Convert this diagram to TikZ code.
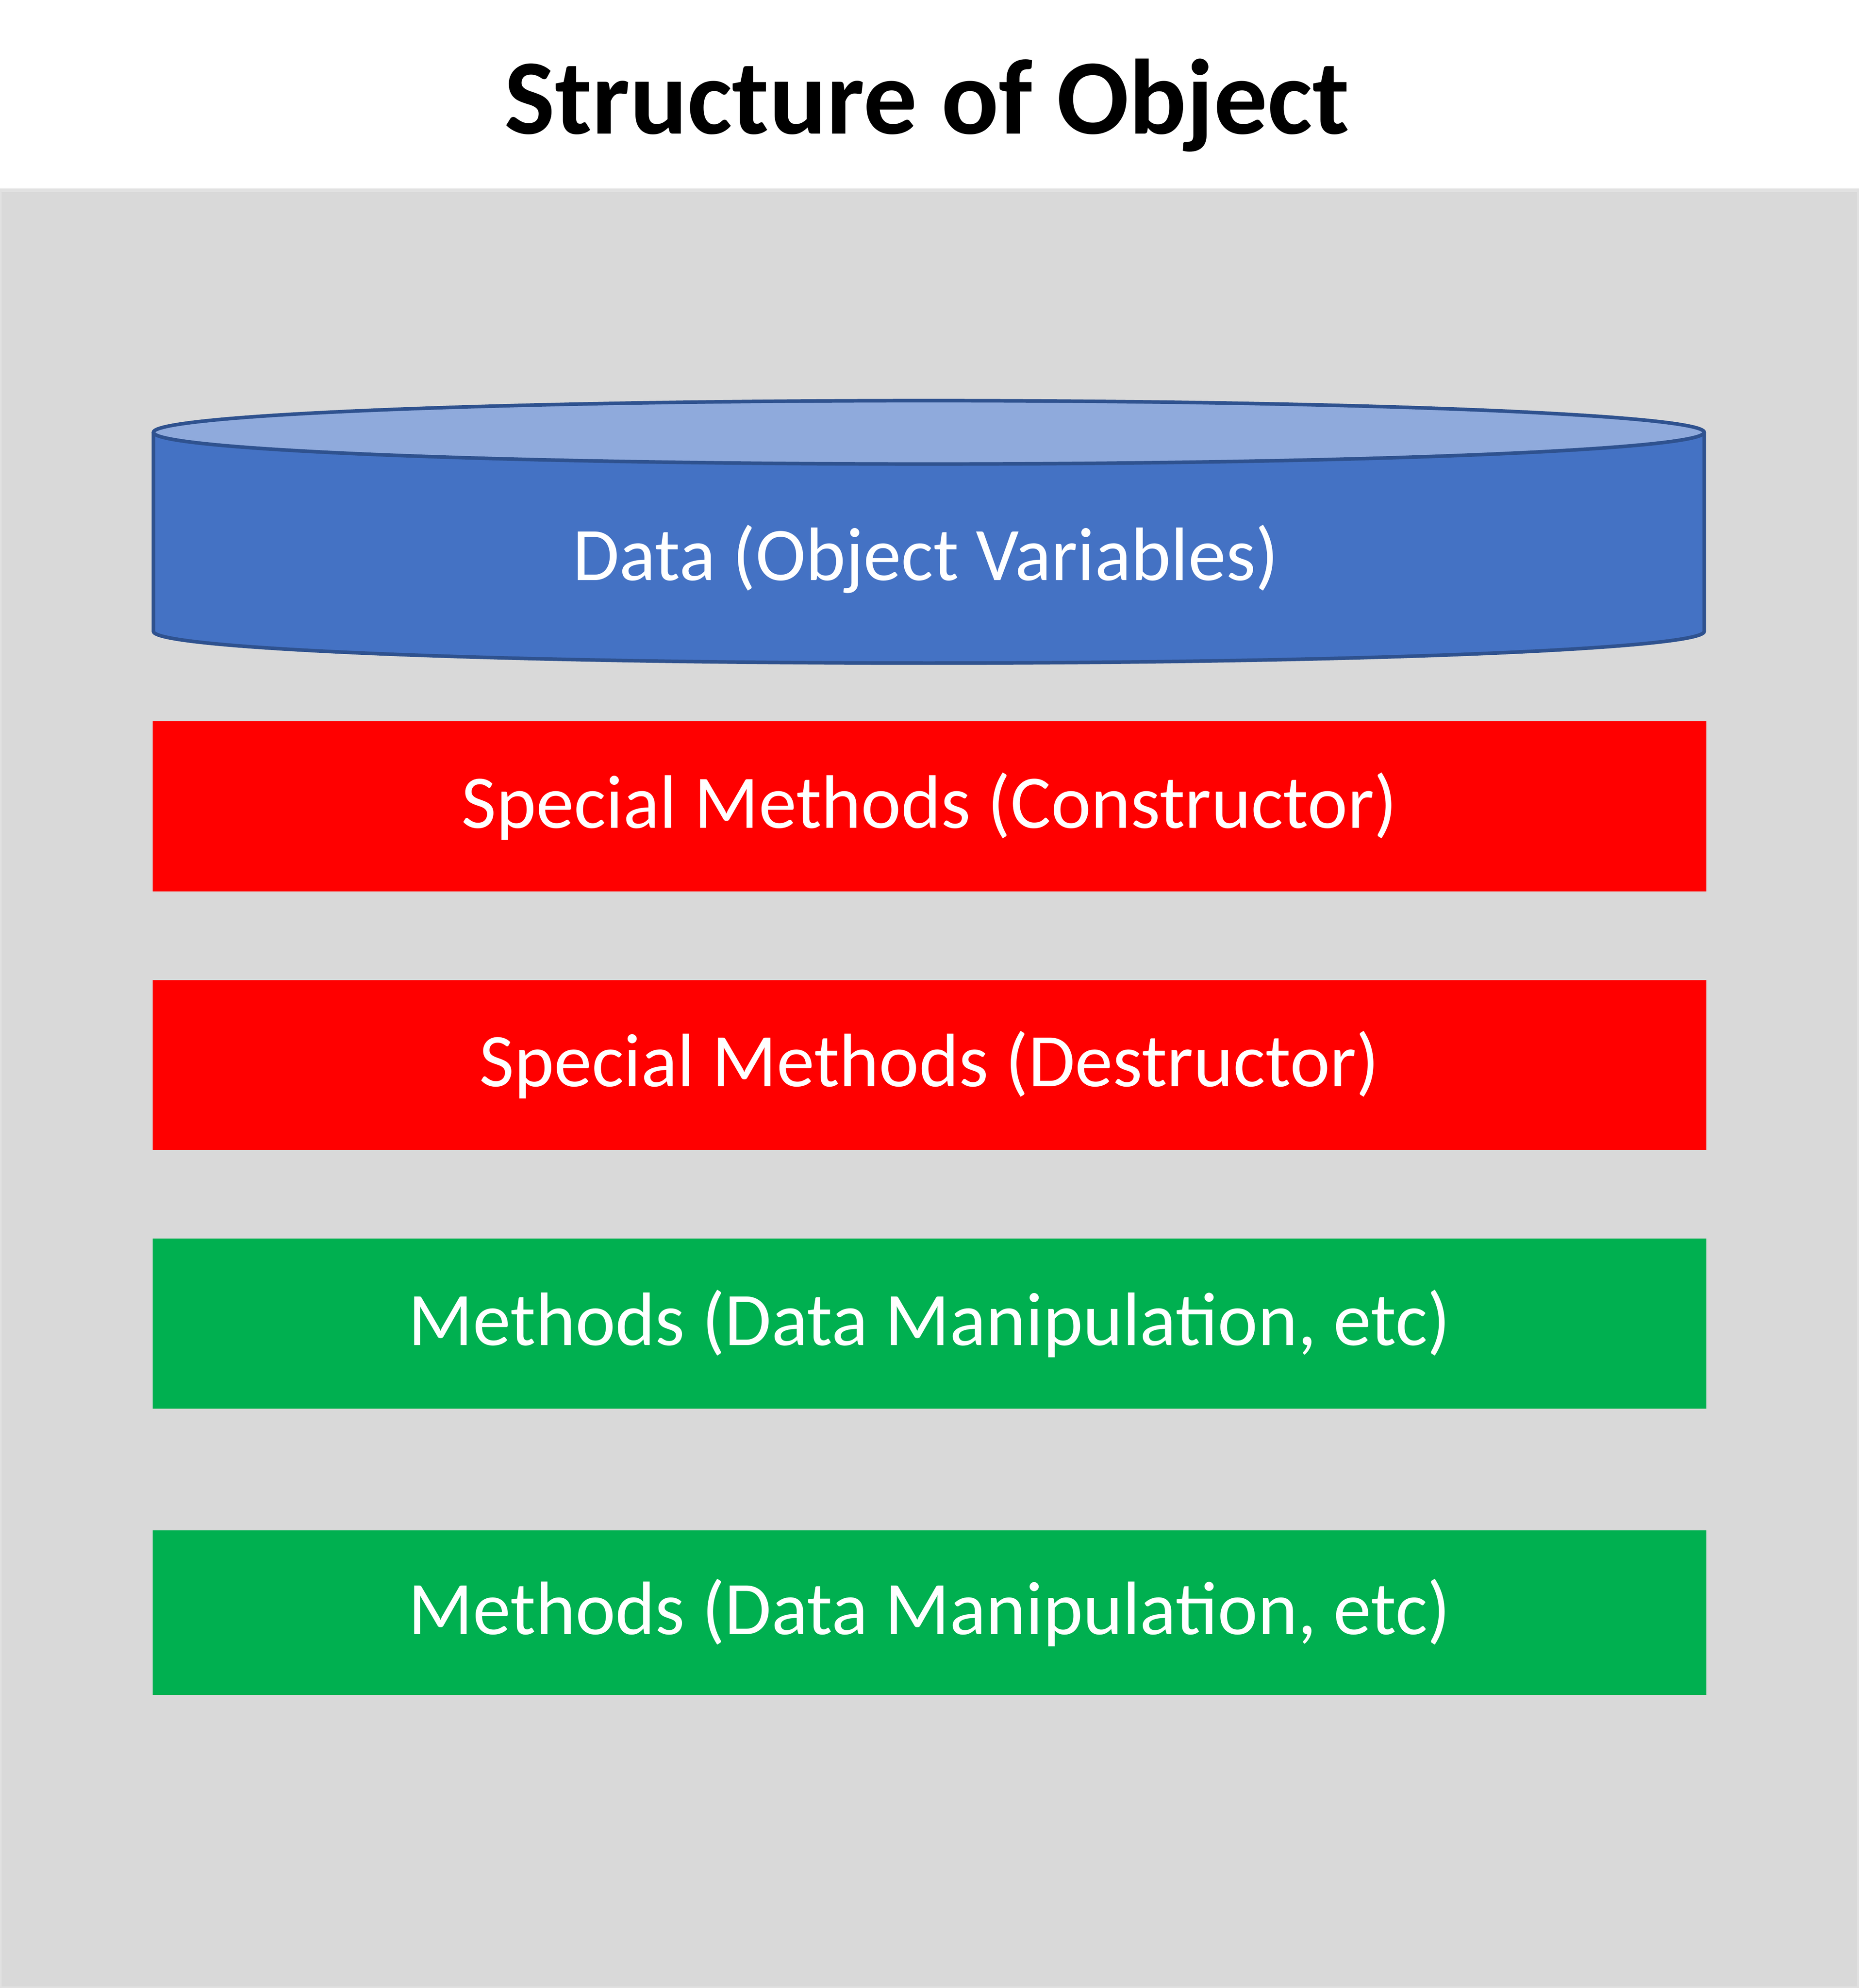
\documentclass[tikz,border=0pt]{standalone}
\usepackage{fontspec}
\setmainfont{Carlito}
\usetikzlibrary{positioning}
\definecolor{bggray}{HTML}{D9D9D9}
\definecolor{datablue}{HTML}{4472C4}
\definecolor{datatop}{HTML}{8FAADC}
\definecolor{dataline}{HTML}{2F528F}
\definecolor{specred}{HTML}{FF0000}
\definecolor{methgreen}{HTML}{00B050}
\begin{document}
\begin{tikzpicture}[
    layer/.style={minimum width=12.25cm, minimum height=1.34cm, inner sep=0pt, text=white, font=\fontsize{17}{20}\selectfont},
    title/.style={font=\bfseries\fontsize{24}{28}\selectfont}
]
\useasboundingbox (0,0) rectangle (14.66,-15.68);
\fill[white] (0,0) rectangle (14.66,-15.68);

% Background panel
\draw[bggray!80!white, fill=bggray, line width=0.8pt] (0,-1.5) rectangle (14.66,-15.68);
\node[title] (head) at (7.31,-0.83) {Structure of Object};

% Data cylinder
\draw[dataline, fill=datablue, line width=0.8pt] (1.21,-3.41) -- (1.21,-4.98) arc[start angle=180, end angle=360, x radius=6.115cm, y radius=0.25cm] -- (13.44,-3.41);
\draw[dataline, fill=datatop, line width=0.8pt] (7.325,-3.41) ellipse[x radius=6.115cm, y radius=0.25cm];
\node[layer, minimum height=1cm] (data) at (7.3,-4.41) {Data (Object Variables)};

% Method layers
\node[layer, fill=specred] (ctor) at (7.33,-6.36) {Special Methods (Constructor)};
\node[layer, fill=specred] (dtor) at (7.33,-8.40) {Special Methods (Destructor)};
\node[layer, fill=methgreen] (meth1) at (7.33,-10.44) {Methods (Data Manipulation, etc)};
\node[layer, fill=methgreen, minimum height=1.30cm] (meth2) at (7.33,-12.72) {Methods (Data Manipulation, etc)};

\end{tikzpicture}
\end{document}
